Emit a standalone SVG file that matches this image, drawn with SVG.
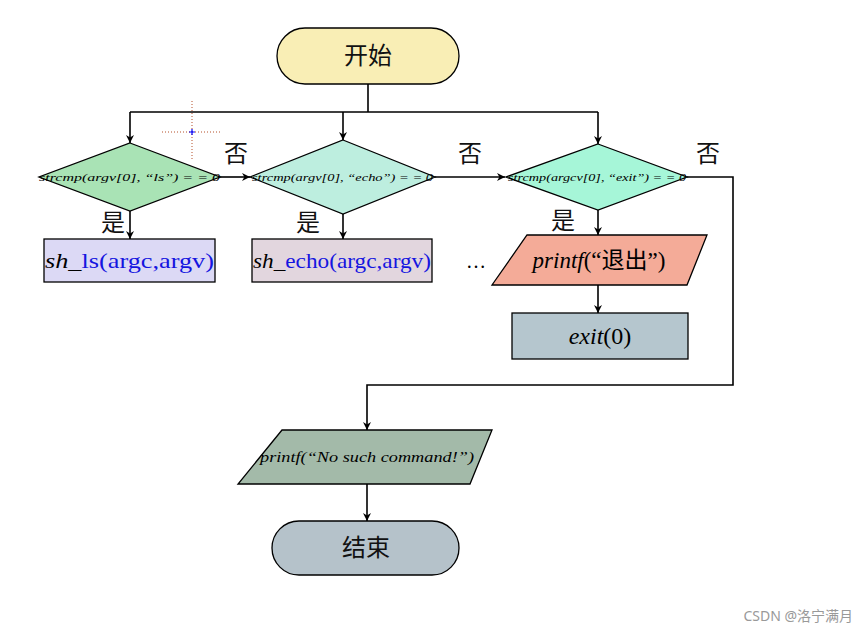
<svg xmlns="http://www.w3.org/2000/svg" width="866" height="634" viewBox="0 0 866 634">
<style>
.s{stroke:#000;stroke-width:1.3}
.ln{fill:none;stroke:#000;stroke-width:1.6}
.t{font-family:"Liberation Serif","DejaVu Serif","Times New Roman",serif;fill:#000}
.cj{font-family:"Noto Sans CJK SC",sans-serif;fill:#111}
.d{font-style:italic;font-size:11px}
.b{fill:#1515e0}
</style>
<defs>
<marker id="a" viewBox="0 0 10 10" refX="10" refY="5" markerWidth="8" markerHeight="8" markerUnits="userSpaceOnUse" orient="auto">
<path d="M0,0 L10,5 L0,10 L3,5 Z" fill="#000"/>
</marker>
</defs>
<rect width="866" height="634" fill="#fff"/>
<g id="connectors">
<path class="ln" d="M368,84 V112 M130,112 H598"/>
<path class="ln" d="M130,112 V143" marker-end="url(#a)"/>
<path class="ln" d="M343,112 V140" marker-end="url(#a)"/>
<path class="ln" d="M598,112 V144" marker-end="url(#a)"/>
<path class="ln" d="M220,177 H250" marker-end="url(#a)"/>
<path class="ln" d="M435,177 H505" marker-end="url(#a)"/>
<path class="ln" d="M687,177 H733 V385 H367 V430" marker-end="url(#a)"/>
<path class="ln" d="M130,211 V239" marker-end="url(#a)"/>
<path class="ln" d="M343,214 V239" marker-end="url(#a)"/>
<path class="ln" d="M598,210 V235" marker-end="url(#a)"/>
<path class="ln" d="M598,285 V313" marker-end="url(#a)"/>
<path class="ln" d="M367,484 V521" marker-end="url(#a)"/>
<text class="cj" x="236" y="162" font-size="24" text-anchor="middle">否</text>
<text class="cj" x="470" y="162" font-size="24" text-anchor="middle">否</text>
<text class="cj" x="708" y="162" font-size="24" text-anchor="middle">否</text>
<text class="cj" x="113" y="231" font-size="24" text-anchor="middle">是</text>
<text class="cj" x="308" y="231" font-size="24" text-anchor="middle">是</text>
<text class="cj" x="563" y="229" font-size="24" text-anchor="middle">是</text>
</g>
<g id="start">
<rect class="s" x="277" y="28" width="182" height="56" rx="28" fill="#f9eeb5"/>
<text class="cj" x="368" y="64" font-size="24" text-anchor="middle">开始</text>
</g>
<g id="cond-ls">
<polygon class="s" points="130,143 220,177 130,211 39,177" fill="#a9e3b5"/>
<text class="t d" x="39" y="181" textLength="181" lengthAdjust="spacingAndGlyphs">strcmp(argv[0], “ls”) = = 0</text>
</g>
<g id="cond-echo">
<polygon class="s" points="343,140 435,177 343,214 250,177" fill="#bdeedf"/>
<text class="t d" x="252" y="181" textLength="181" lengthAdjust="spacingAndGlyphs">strcmp(argv[0], “echo”) = = 0</text>
</g>
<g id="cond-exit">
<polygon class="s" points="598,144 687,177 598,210 506,177" fill="#a6f6d8"/>
<text class="t d" x="508" y="181" textLength="178" lengthAdjust="spacingAndGlyphs">strcmp(argcv[0], “exit”) = = 0</text>
</g>
<g id="sh-ls">
<rect class="s" x="44" y="239" width="171" height="43" fill="#dcd9f5"/>
<text class="t" x="129.5" y="268" font-size="22" text-anchor="middle" textLength="169" lengthAdjust="spacingAndGlyphs"><tspan font-style="italic">sh</tspan><tspan>_</tspan><tspan class="b">ls(argc,argv)</tspan></text>
</g>
<g id="sh-echo">
<rect class="s" x="252" y="239" width="180" height="43" fill="#e2d6de"/>
<text class="t" x="342" y="268" font-size="22" text-anchor="middle" textLength="178" lengthAdjust="spacingAndGlyphs"><tspan font-style="italic">sh</tspan><tspan>_</tspan><tspan class="b">echo(argc,argv)</tspan></text>
</g>
<g id="ellipsis">
<text class="t" x="476" y="268" font-size="20" text-anchor="middle">…</text>
</g>
<g id="printf-exit">
<polygon class="s" points="527,235 707,235 687,285 492,285" fill="#f4ab98"/>
<text class="t" x="599" y="268" font-size="23" text-anchor="middle"><tspan font-style="italic">printf</tspan>(“<tspan font-family="Noto Sans CJK SC,sans-serif">退出</tspan>”)</text>
</g>
<g id="exit">
<rect class="s" x="512" y="313" width="176" height="46" fill="#b5c6ce"/>
<text class="t" x="600" y="344" font-size="24" text-anchor="middle"><tspan font-style="italic">exit</tspan>(0)</text>
</g>
<g id="printf-nocmd">
<polygon class="s" points="282,430 492,430 470,484 238,484" fill="#a3baa9"/>
<text class="t" x="260" y="462" font-size="14" font-style="italic" textLength="214" lengthAdjust="spacingAndGlyphs">printf(“No such command!”)</text>
</g>
<g id="end">
<rect class="s" x="272" y="521" width="187" height="54" rx="27" fill="#b5c2ca"/>
<text class="cj" x="366" y="556" font-size="24" text-anchor="middle">结束</text>
</g>
<g id="crosshair">
<path d="M192,101 V160 M162,132 H221" stroke="#b5502a" stroke-width="1" stroke-dasharray="1,2" fill="none"/>
<path d="M189,132 H195 M192,129 V135" stroke="#0000ff" stroke-width="1.2" fill="none"/>
</g>
<text x="853" y="621" font-family="'Noto Sans','Noto Sans CJK SC',sans-serif" font-size="14" fill="#999" text-anchor="end">CSDN @洛宁满月</text>
</svg>
